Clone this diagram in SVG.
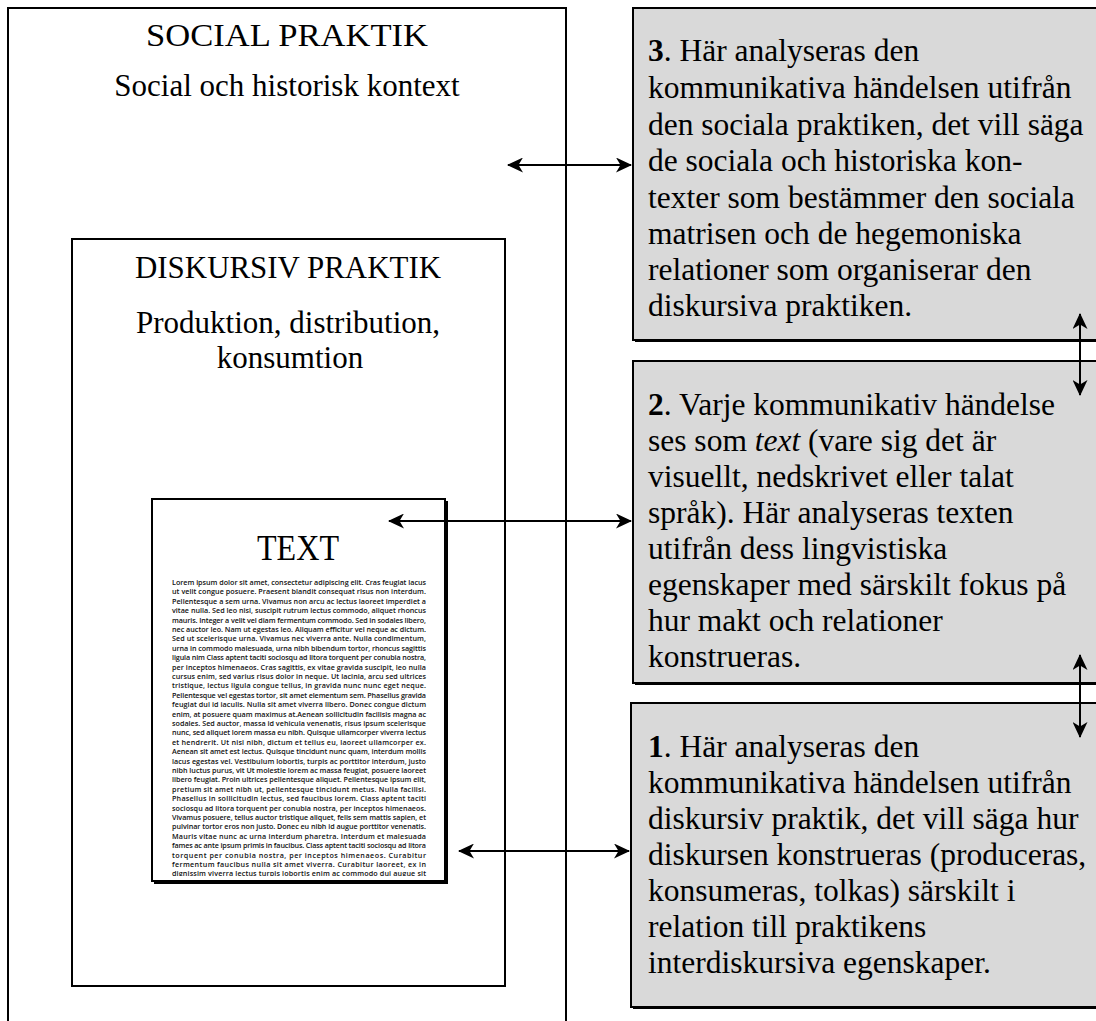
<svg xmlns="http://www.w3.org/2000/svg" width="1096" height="1021" viewBox="0 0 1096 1021">
<style>
.frame{fill:#fff;stroke:#000;stroke-width:2}
.gray{fill:#d9d9d9;stroke:#000;stroke-width:2}
.shadow{fill:#000}
.h{font-family:"Liberation Serif","Times New Roman",serif;font-size:31px;fill:#000;text-anchor:middle}
.b{font-family:"Liberation Serif","Times New Roman",serif;font-size:31.5px;fill:#000}
.lorem{font-family:"Open Sans","Noto Sans","Liberation Sans",sans-serif;font-size:7.2px;font-weight:600;fill:#111}
.conn{stroke:#000;stroke-width:2;fill:none;marker-start:url(#ah);marker-end:url(#ah)}
</style>
<defs>
<marker id="ah" markerUnits="userSpaceOnUse" markerWidth="17" markerHeight="15" refX="15" refY="7.5" orient="auto-start-reverse">
<path d="M0,0 L16,7.5 L0,15 L4.5,7.5 Z" fill="#000"/>
</marker>
<clipPath id="lc"><rect x="154" y="570" width="290" height="306"/></clipPath>
</defs>

<g id="social-praktik">
<rect class="frame" x="8" y="8" width="558" height="1030"/>
<text class="h" x="287" y="46" textLength="282" lengthAdjust="spacingAndGlyphs">SOCIAL PRAKTIK</text>
<text class="h" x="287" y="96">Social och historisk kontext</text>
</g>

<g id="diskursiv-praktik">
<rect class="frame" x="72" y="239" width="433" height="747"/>
<text class="h" x="288" y="278" textLength="306" lengthAdjust="spacingAndGlyphs">DISKURSIV PRAKTIK</text>
<text class="h" x="288" y="333">Produktion, distribution,</text>
<text class="h" x="290" y="368">konsumtion</text>
</g>

<g id="text-node">
<rect class="shadow" x="154" y="501" width="294" height="383"/>
<rect class="frame" x="152" y="499" width="293" height="382"/>
<text class="h" x="298" y="560" style="font-size:36px" textLength="82" lengthAdjust="spacingAndGlyphs">TEXT</text>
<g clip-path="url(#lc)" class="lorem">
<text x="172" y="585" textLength="254" lengthAdjust="spacing">Lorem ipsum dolor sit amet, consectetur adipiscing elit. Cras feugiat lacus</text>
<text x="172" y="594.4" textLength="254" lengthAdjust="spacing">ut velit congue posuere. Praesent blandit consequat risus non interdum.</text>
<text x="172" y="603.8" textLength="254" lengthAdjust="spacing">Pellentesque a sem urna. Vivamus non arcu ac lectus laoreet imperdiet a</text>
<text x="172" y="613.2" textLength="254" lengthAdjust="spacing">vitae nulla. Sed leo nisi, suscipit rutrum lectus commodo, aliquet rhoncus</text>
<text x="172" y="622.6" textLength="254" lengthAdjust="spacing">mauris. Integer a velit vel diam fermentum commodo. Sed in sodales libero,</text>
<text x="172" y="632" textLength="254" lengthAdjust="spacing">nec auctor leo. Nam ut egestas leo. Aliquam efficitur vel neque ac dictum.</text>
<text x="172" y="641.4" textLength="254" lengthAdjust="spacing">Sed ut scelerisque urna. Vivamus nec viverra ante. Nulla condimentum,</text>
<text x="172" y="650.8" textLength="254" lengthAdjust="spacing">urna in commodo malesuada, urna nibh bibendum tortor, rhoncus sagittis</text>
<text x="172" y="660.2" textLength="254" lengthAdjust="spacing">ligula nim Class aptent taciti sociosqu ad litora torquent per conubia nostra,</text>
<text x="172" y="669.6" textLength="254" lengthAdjust="spacing">per inceptos himenaeos. Cras sagittis, ex vitae gravida suscipit, leo nulla</text>
<text x="172" y="679" textLength="254" lengthAdjust="spacing">cursus enim, sed varius risus dolor in neque. Ut lacinia, arcu sed ultrices</text>
<text x="172" y="688.4" textLength="254" lengthAdjust="spacing">tristique, lectus ligula congue tellus, in gravida nunc nunc eget neque.</text>
<text x="172" y="697.8" textLength="254" lengthAdjust="spacing">Pellentesque vel egestas tortor, sit amet elementum sem. Phasellus gravida</text>
<text x="172" y="707.2" textLength="254" lengthAdjust="spacing">feugiat dui id iaculis. Nulla sit amet viverra libero. Donec congue dictum</text>
<text x="172" y="716.6" textLength="254" lengthAdjust="spacing">enim, at posuere quam maximus at.Aenean sollicitudin facilisis magna ac</text>
<text x="172" y="726" textLength="254" lengthAdjust="spacing">sodales. Sed auctor, massa id vehicula venenatis, risus ipsum scelerisque</text>
<text x="172" y="735.4" textLength="254" lengthAdjust="spacing">nunc, sed aliquet lorem massa eu nibh. Quisque ullamcorper viverra lectus</text>
<text x="172" y="744.8" textLength="254" lengthAdjust="spacing">et hendrerit. Ut nisi nibh, dictum et tellus eu, laoreet ullamcorper ex.</text>
<text x="172" y="754.2" textLength="254" lengthAdjust="spacing">Aenean sit amet est lectus. Quisque tincidunt nunc quam, interdum mollis</text>
<text x="172" y="763.6" textLength="254" lengthAdjust="spacing">lacus egestas vel. Vestibulum lobortis, turpis ac porttitor interdum, justo</text>
<text x="172" y="773" textLength="254" lengthAdjust="spacing">nibh luctus purus, vit Ut molestie lorem ac massa feugiat, posuere laoreet</text>
<text x="172" y="782.4" textLength="254" lengthAdjust="spacing">libero feugiat. Proin ultrices pellentesque aliquet. Pellentesque ipsum elit,</text>
<text x="172" y="791.8" textLength="254" lengthAdjust="spacing">pretium sit amet nibh ut, pellentesque tincidunt metus. Nulla facilisi.</text>
<text x="172" y="801.2" textLength="254" lengthAdjust="spacing">Phasellus in sollicitudin lectus, sed faucibus lorem. Class aptent taciti</text>
<text x="172" y="810.6" textLength="254" lengthAdjust="spacing">sociosqu ad litora torquent per conubia nostra, per inceptos himenaeos.</text>
<text x="172" y="820" textLength="254" lengthAdjust="spacing">Vivamus posuere, tellus auctor tristique aliquet, felis sem mattis sapien, et</text>
<text x="172" y="829.4" textLength="254" lengthAdjust="spacing">pulvinar tortor eros non justo. Donec eu nibh id augue porttitor venenatis.</text>
<text x="172" y="838.8" textLength="254" lengthAdjust="spacing">Mauris vitae nunc ac urna interdum pharetra. Interdum et malesuada</text>
<text x="172" y="848.2" textLength="254" lengthAdjust="spacing">fames ac ante ipsum primis in faucibus. Class aptent taciti sociosqu ad litora</text>
<text x="172" y="857.6" textLength="254" lengthAdjust="spacing">torquent per conubia nostra, per inceptos himenaeos. Curabitur</text>
<text x="172" y="867" textLength="254" lengthAdjust="spacing">fermentum faucibus nulla sit amet viverra. Curabitur laoreet, ex in</text>
<text x="172" y="876.4" textLength="254" lengthAdjust="spacing">dignissim viverra lectus turpis lobortis enim ac commodo dui augue sit</text>
</g>
</g>

<g id="box3">
<rect class="shadow" x="635" y="10" width="470" height="332"/>
<rect class="gray" x="633" y="8" width="470" height="332"/>
<text class="b">
<tspan x="648" y="61"><tspan font-weight="bold">3</tspan>. Här analyseras den</tspan>
<tspan x="648" y="98">kommunikativa händelsen utifrån</tspan>
<tspan x="648" y="134.5">den sociala praktiken, det vill säga</tspan>
<tspan x="648" y="171">de sociala och historiska kon-</tspan>
<tspan x="648" y="207.5">texter som bestämmer den sociala</tspan>
<tspan x="648" y="244">matrisen och de hegemoniska</tspan>
<tspan x="648" y="280">relationer som organiserar den</tspan>
<tspan x="648" y="316">diskursiva praktiken.</tspan>
</text>
</g>

<g id="box2">
<rect class="shadow" x="635" y="363" width="470" height="322"/>
<rect class="gray" x="633" y="361" width="470" height="322"/>
<text class="b">
<tspan x="648" y="415"><tspan font-weight="bold">2</tspan>. Varje kommunikativ händelse</tspan>
<tspan x="648" y="451">ses som <tspan font-style="italic">text</tspan> (vare sig det är</tspan>
<tspan x="648" y="487">visuellt, nedskrivet eller talat</tspan>
<tspan x="648" y="523">språk). Här analyseras texten</tspan>
<tspan x="648" y="559">utifrån dess lingvistiska</tspan>
<tspan x="648" y="595">egenskaper med särskilt fokus på</tspan>
<tspan x="648" y="631">hur makt och relationer</tspan>
<tspan x="648" y="667">konstrueras.</tspan>
</text>
</g>

<g id="box1">
<rect class="shadow" x="633" y="705" width="470" height="304"/>
<rect class="gray" x="631" y="703" width="470" height="304"/>
<text class="b">
<tspan x="648" y="757"><tspan font-weight="bold">1</tspan>. Här analyseras den</tspan>
<tspan x="648" y="793">kommunikativa händelsen utifrån</tspan>
<tspan x="648" y="829">diskursiv praktik, det vill säga hur</tspan>
<tspan x="648" y="865">diskursen konstrueras (produceras,</tspan>
<tspan x="648" y="901">konsumeras, tolkas) särskilt i</tspan>
<tspan x="648" y="937">relation till praktikens</tspan>
<tspan x="648" y="973">interdiskursiva egenskaper.</tspan>
</text>
</g>

<g id="connectors">
<line class="conn" x1="508" y1="165" x2="631" y2="165"/>
<line class="conn" x1="389" y1="521" x2="631" y2="521"/>
<line class="conn" x1="459" y1="851" x2="629" y2="851"/>
<line class="conn" x1="1080" y1="314" x2="1080" y2="395"/>
<line class="conn" x1="1080" y1="655" x2="1080" y2="737"/>
</g>
</svg>
